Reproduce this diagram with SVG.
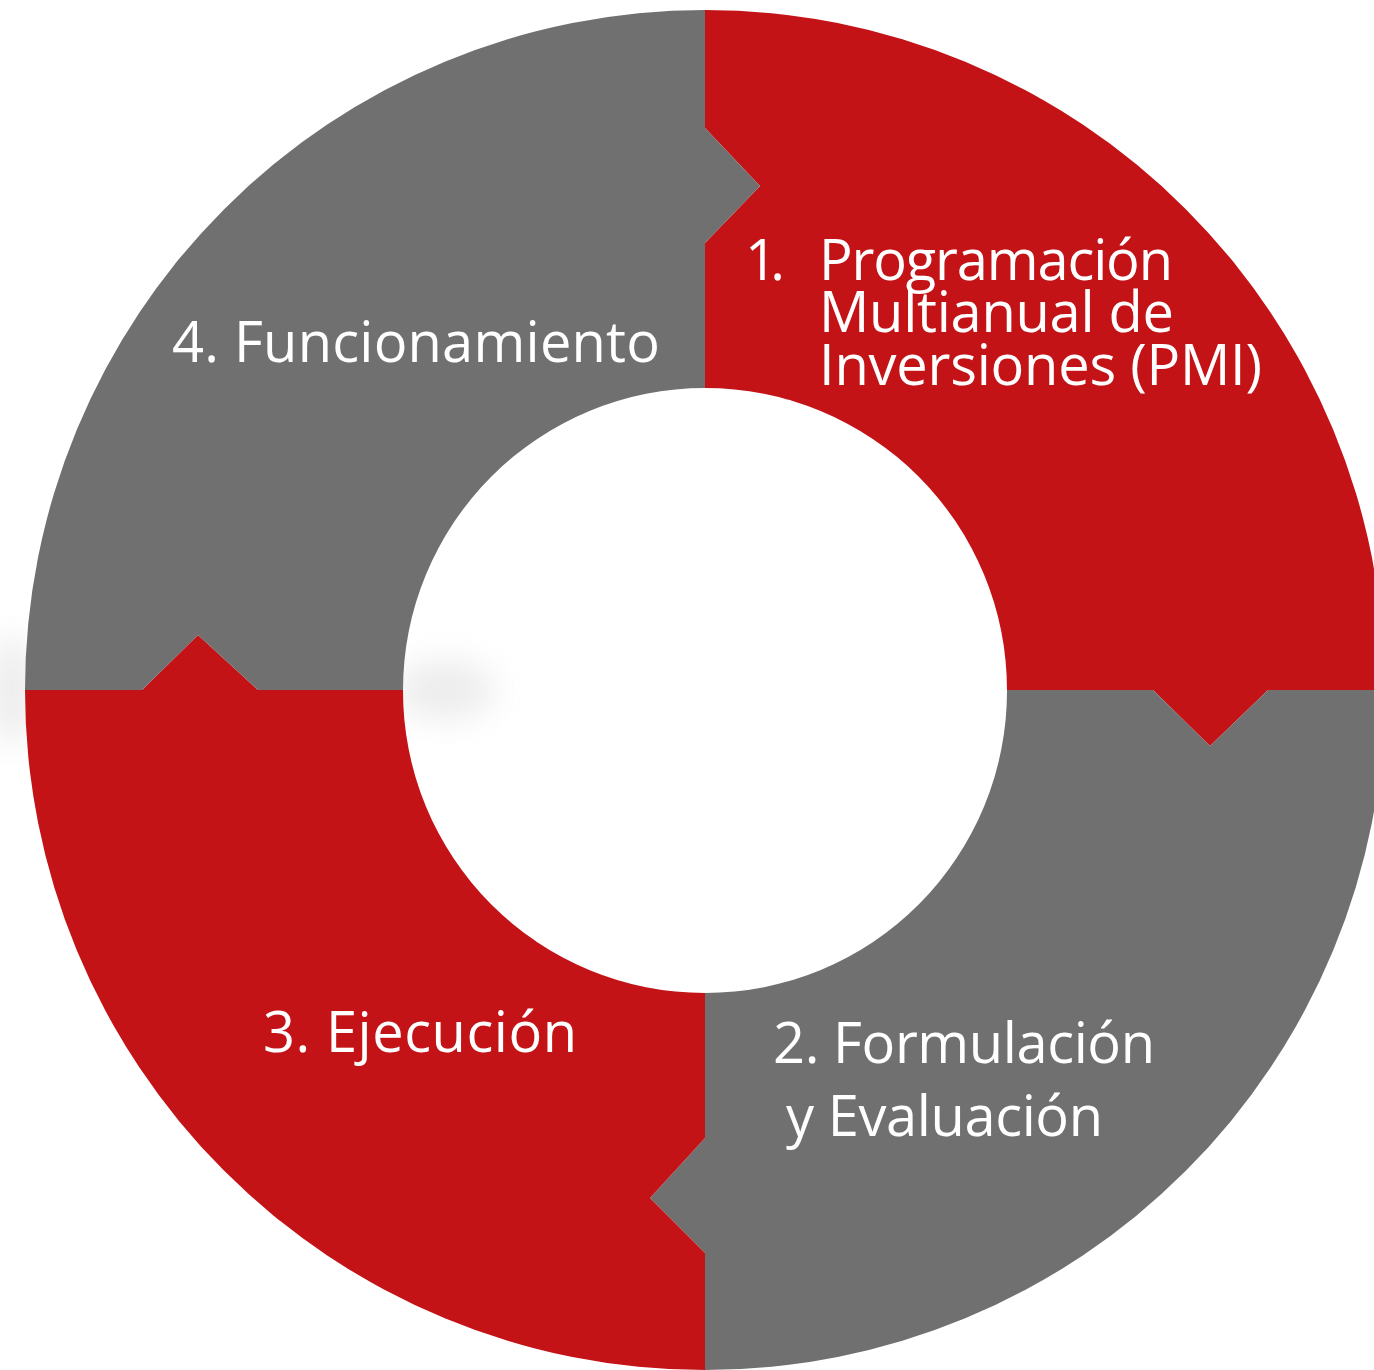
<svg xmlns="http://www.w3.org/2000/svg" width="1374" height="1370" viewBox="0 0 1374 1370">
  <defs>
    <filter id="blur" x="-100%" y="-100%" width="300%" height="300%">
      <feGaussianBlur stdDeviation="16"/>
    </filter>
    <style>
      .red { fill: #C31317; }
      .grey { fill: #707070; }
      .lbl { font-family: "Open Sans", "Noto Sans", "Liberation Sans", sans-serif; font-size: 56px; fill: #FFFFFF; }
    </style>
  </defs>
  <rect width="1374" height="1370" fill="#FFFFFF"/>
  <g id="shadows" opacity="0.18">
    <ellipse cx="12" cy="690" rx="24" ry="55" fill="#9a9a9a" filter="url(#blur)"/>
    <ellipse cx="445" cy="690" rx="50" ry="30" fill="#9a9a9a" filter="url(#blur)"/>
  </g>
  <g id="node-1">
    <path class="red" d="M705,10 A680,680 0 0 1 1385,690 L1268,690 L1210,746 L1153,690 L1007,690 A302,302 0 0 0 705,388 L705,243 L760,186 L705,128 Z"/>
    <text class="lbl" x="745" y="280" textLength="40">1.</text>
    <text class="lbl" x="819" y="280" textLength="354">Programación</text>
    <text class="lbl" x="819" y="332" textLength="355">Multianual de</text>
    <text class="lbl" x="819" y="385" textLength="443">Inversiones (PMI)</text>
  </g>
  <g id="node-2">
    <path class="grey" d="M1385,690 A680,680 0 0 1 705,1370 L705,1253 L650,1198 L705,1138 L705,993 A302,302 0 0 0 1007,690 L1153,690 L1210,746 L1268,690 Z"/>
    <text class="lbl" x="773" y="1063" textLength="382">2. Formulación</text>
    <text class="lbl" x="786" y="1136" textLength="317">y Evaluación</text>
  </g>
  <g id="node-3">
    <path class="red" d="M705,1370 A680,680 0 0 1 25,690 L142,690 L198,635 L258,690 L403,690 A302,302 0 0 0 705,993 L705,1138 L650,1198 L705,1253 Z"/>
    <line x1="487" y1="907" x2="227" y2="1170" stroke="#B91317" stroke-width="1"/>
    <text class="lbl" x="263" y="1052" textLength="314">3. Ejecución</text>
  </g>
  <g id="node-4">
    <path class="grey" d="M25,690 A680,680 0 0 1 705,10 L705,128 L760,186 L705,243 L705,388 A302,302 0 0 0 403,690 L258,690 L198,635 L142,690 Z"/>
    <text class="lbl" x="172" y="362" textLength="488">4. Funcionamiento</text>
  </g>
  <g id="connectors"/>
</svg>
